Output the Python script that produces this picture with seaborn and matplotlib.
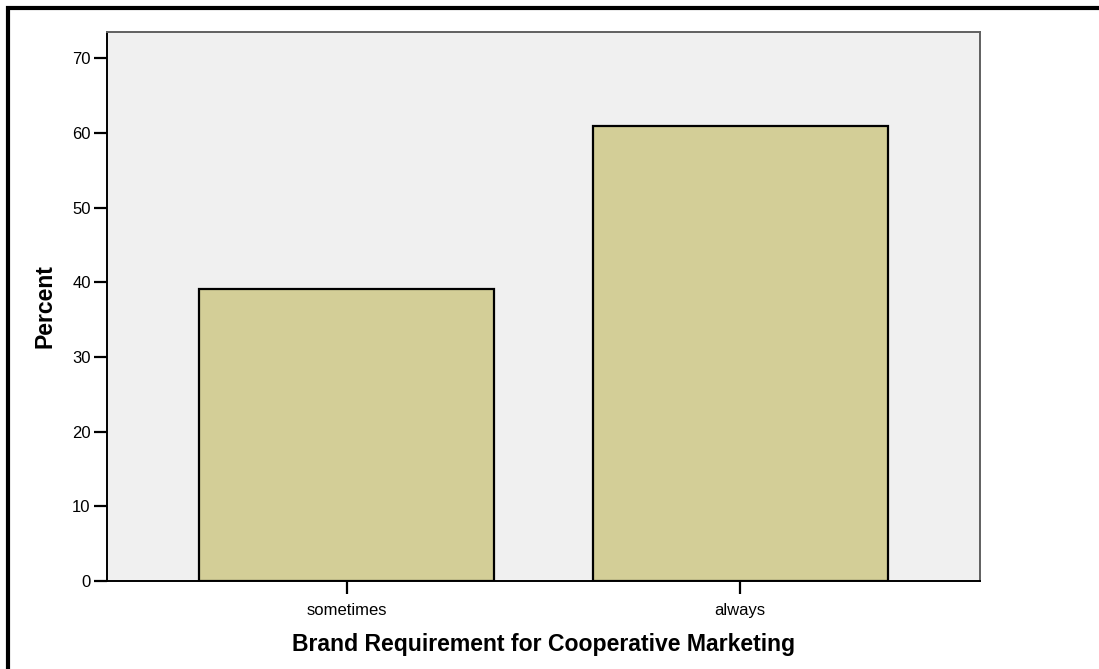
import matplotlib
matplotlib.use("Agg")
import matplotlib.pyplot as plt
import matplotlib.patches as mpatches
import pandas as pd
import seaborn as sns

# values
categories = ["sometimes", "always"]
percent = [39.1, 60.9]

df = pd.DataFrame({"requirement": categories, "percent": percent})

sns.set_style("white")
plt.rcParams['font.family'] = ['Liberation Sans', 'DejaVu Sans']
plt.rcParams['text.color'] = 'black'
plt.rcParams['axes.labelcolor'] = 'black'
plt.rcParams['xtick.color'] = 'black'
plt.rcParams['ytick.color'] = 'black'

fig = plt.figure(figsize=(10.99, 6.69), dpi=100)
ax = fig.add_axes([0.0971, 0.1315, 0.7946, 0.8207])
ax.set_facecolor('#f0f0f0')

sns.barplot(data=df, x="requirement", y="percent", ax=ax,
            color='#d3ce97', saturation=1, width=0.75,
            edgecolor='black', linewidth=1.6)

ax.set_xlim(-0.61, 1.61)
ax.set_ylim(0, 73.5)
ax.set_yticks(range(0, 71, 10))

ax.set_xlabel("Brand Requirement for Cooperative Marketing",
              fontsize=16.6, fontweight='bold', labelpad=11)
ax.set_ylabel("Percent", fontsize=16.6, fontweight='bold', labelpad=11)

ax.tick_params(axis='both', which='major', labelsize=12, length=9.5,
               width=1.6, direction='out', pad=2,
               bottom=True, left=True)
ax.tick_params(axis='x', pad=6)

for side in ['left', 'bottom']:
    ax.spines[side].set_color('black')
    ax.spines[side].set_linewidth(1.4)
for side in ['top', 'right']:
    ax.spines[side].set_color('#606060')
    ax.spines[side].set_linewidth(1.4)

# outer frame (only its left and top edges fall inside the picture)
top = 1 - 8 / 669
frame = mpatches.Rectangle((8 / 1099, -0.2), 1.2, top + 0.2,
                           transform=fig.transFigure, fill=False,
                           edgecolor='black', linewidth=3)
fig.patches.append(frame)

fig.savefig("out.png", dpi=100)
